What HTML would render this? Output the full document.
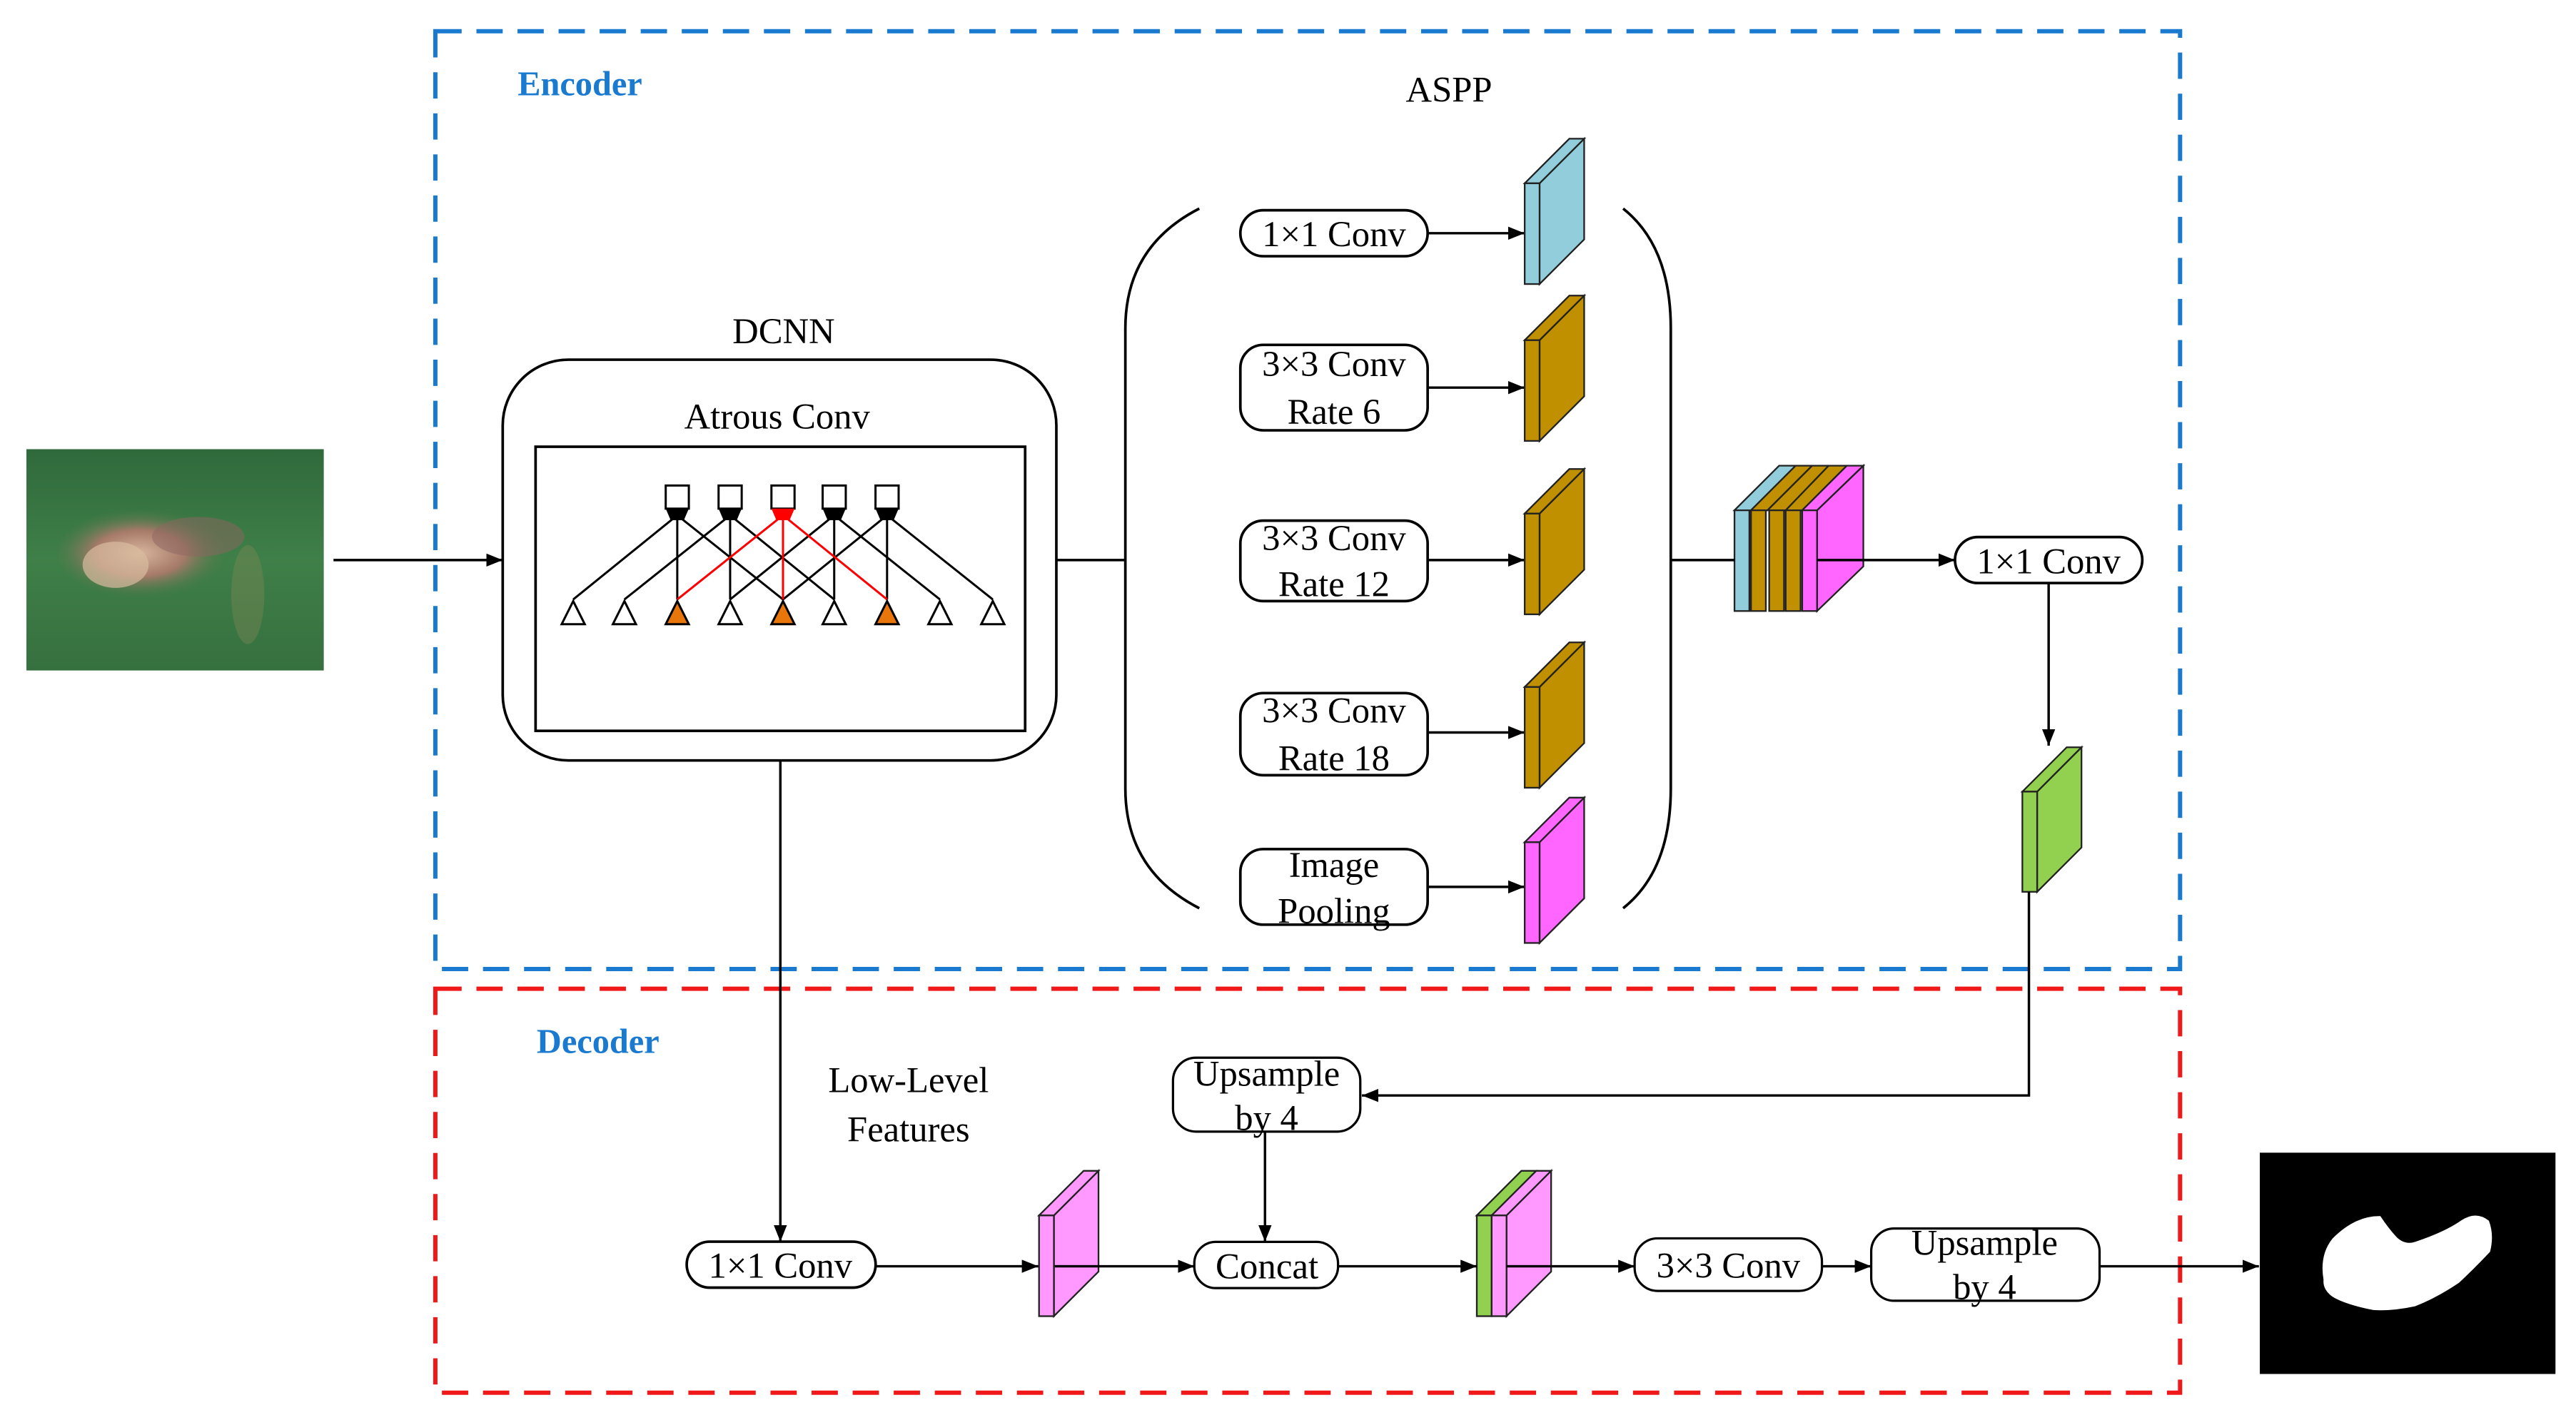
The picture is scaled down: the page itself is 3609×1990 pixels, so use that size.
<!DOCTYPE html>
<html><head><meta charset="utf-8"><style>html,body{margin:0;padding:0;background:#fff}svg{display:block}svg text{font-family:"Liberation Serif","DejaVu Serif","Noto Serif CJK SC",serif}</style></head>
<body>
<svg width="3609" height="1990" viewBox="0 0 1568 864.6" preserveAspectRatio="none" xmlns="http://www.w3.org/2000/svg">
<defs>
<marker id="ah" markerWidth="10" markerHeight="8" refX="10" refY="4" orient="auto" markerUnits="userSpaceOnUse"><path d="M0,0 L10,4 L0,8 z" fill="#000"/></marker>
<radialGradient id="blob" cx="0.45" cy="0.5" r="0.5"><stop offset="0" stop-color="#d8b49c"/><stop offset="0.5" stop-color="#a57a68"/><stop offset="1" stop-color="#3f7a45" stop-opacity="0"/></radialGradient>
<linearGradient id="grn" x1="0" y1="0" x2="0" y2="1"><stop offset="0" stop-color="#2f6a3c"/><stop offset="0.5" stop-color="#3f7f48"/><stop offset="1" stop-color="#36703f"/></linearGradient>
</defs>
<rect width="1568" height="864.6" fill="#fff"/>

<rect x="265" y="19" width="1062" height="571" fill="none" stroke="#1a7ad0" stroke-width="2.6" stroke-dasharray="16,9"/>
<rect x="265" y="602" width="1062" height="246" fill="none" stroke="#f01818" stroke-width="2.6" stroke-dasharray="16,9"/>
<text x="353" y="58" font-size="21" font-weight="bold" fill="#1a7ad0" text-anchor="middle">Encoder</text>
<text x="364" y="641" font-size="21" font-weight="bold" fill="#1a7ad0" text-anchor="middle">Decoder</text>

<g transform="scale(1.0055)">
<rect x="16" y="272" width="180" height="134" fill="url(#grn)"/>
<ellipse cx="90" cy="335" rx="55" ry="28" fill="url(#blob)"/>
<ellipse cx="70" cy="342" rx="20" ry="14" fill="#d8bca0" opacity="0.7"/>
<ellipse cx="120" cy="325" rx="28" ry="12" fill="#8e6660" opacity="0.5"/>
<ellipse cx="150" cy="360" rx="10" ry="30" fill="#8a8a5a" opacity="0.35"/>
</g>
<line x1="203" y1="341" x2="306" y2="341" stroke="#000" stroke-width="1.5" marker-end="url(#ah)"/>

<text x="477" y="209" font-size="22" text-anchor="middle">DCNN</text>
<rect x="306" y="219" width="337" height="244" rx="40" fill="none" stroke="#000" stroke-width="1.6"/>
<text x="473" y="261" font-size="22" text-anchor="middle">Atrous Conv</text>
<rect x="326" y="272" width="298" height="173" fill="none" stroke="#000" stroke-width="1.6"/>
<g transform="scale(1.0055)">
<g stroke="#000" stroke-width="1.3" fill="none">
<line x1="410" y1="312" x2="347" y2="363"/><line x1="410" y1="312" x2="410" y2="363"/><line x1="410" y1="312" x2="474" y2="363"/>
<line x1="442" y1="312" x2="378" y2="363"/><line x1="442" y1="312" x2="442" y2="363"/><line x1="442" y1="312" x2="505" y2="363"/>
<line x1="505" y1="312" x2="442" y2="363"/><line x1="505" y1="312" x2="505" y2="363"/><line x1="505" y1="312" x2="569" y2="363"/>
<line x1="537" y1="312" x2="474" y2="363"/><line x1="537" y1="312" x2="537" y2="363"/><line x1="537" y1="312" x2="601" y2="363"/>
</g>
<g stroke="#f00" stroke-width="1.3"><line x1="474" y1="312" x2="410" y2="363"/><line x1="474" y1="312" x2="474" y2="363"/><line x1="474" y1="312" x2="537" y2="363"/></g>
<g stroke="#000" stroke-width="1.3" fill="#fff">
<rect x="403" y="294" width="14" height="14"/><rect x="435" y="294" width="14" height="14"/><rect x="467" y="294" width="14" height="14"/><rect x="498" y="294" width="14" height="14"/><rect x="530" y="294" width="14" height="14"/>
</g>
<g fill="#000"><path d="M403,308 h14 l-3,7 h-8 z"/><path d="M435,308 h14 l-3,7 h-8 z"/><path d="M498,308 h14 l-3,7 h-8 z"/><path d="M530,308 h14 l-3,7 h-8 z"/></g>
<path d="M467,308 h14 l-3,7 h-8 z" fill="#f00"/>
<g stroke="#000" stroke-width="1.3">
<path d="M347,364 l-7,14 h14 z" fill="#fff"/><path d="M378,364 l-7,14 h14 z" fill="#fff"/><path d="M410,364 l-7,14 h14 z" fill="#e8760a"/>
<path d="M442,364 l-7,14 h14 z" fill="#fff"/><path d="M474,364 l-7,14 h14 z" fill="#e8760a"/><path d="M505,364 l-7,14 h14 z" fill="#fff"/>
<path d="M537,364 l-7,14 h14 z" fill="#e8760a"/><path d="M569,364 l-7,14 h14 z" fill="#fff"/><path d="M601,364 l-7,14 h14 z" fill="#fff"/>
</g>
</g>
<line x1="643" y1="341" x2="685" y2="341" stroke="#000" stroke-width="1.5"/>

<text x="882" y="62" font-size="22" text-anchor="middle">ASPP</text>
<path d="M730,127 Q685,150 685,200 V480 Q685,530 730,553" fill="none" stroke="#000" stroke-width="1.6"/>
<path d="M988,127 Q1017,150 1017,200 V480 Q1017,530 988,553" fill="none" stroke="#000" stroke-width="1.6"/>
<g fill="#fff" stroke="#000" stroke-width="1.6">
<rect x="755" y="128" width="114" height="28" rx="14"/>
<rect x="755" y="210" width="114" height="52" rx="14"/>
<rect x="755" y="317" width="114" height="49" rx="14"/>
<rect x="755" y="422" width="114" height="50" rx="14"/>
<rect x="755" y="517" width="114" height="46" rx="14"/>
</g>
<g font-size="22" text-anchor="middle">
<text x="812" y="150">1×1 Conv</text>
<text x="812" y="229">3×3 Conv</text><text x="812" y="258">Rate 6</text>
<text x="812" y="335">3×3 Conv</text><text x="812" y="363">Rate 12</text>
<text x="812" y="440">3×3 Conv</text><text x="812" y="469">Rate 18</text>
<text x="812" y="534">Image</text><text x="812" y="562">Pooling</text>
</g>
<g stroke="#000" stroke-width="1.5" marker-end="url(#ah)">
<line x1="869" y1="142" x2="928" y2="142"/><line x1="869" y1="236" x2="928" y2="236"/><line x1="869" y1="341" x2="928" y2="341"/><line x1="869" y1="446" x2="928" y2="446"/><line x1="869" y1="540" x2="928" y2="540"/>
</g>
<g transform="scale(1.0055)">
<g stroke="#222" stroke-width="1">
<g fill="#92cddc"><path d="M932,111 L959,84 V145 L932,172 Z"/><path d="M923,111 L950,84 H959 L932,111 Z"/><rect x="923" y="111" width="9" height="61"/></g>
<g fill="#c09000"><path d="M932,206 L959,179 V240 L932,267 Z"/><path d="M923,206 L950,179 H959 L932,206 Z"/><rect x="923" y="206" width="9" height="61"/></g>
<g fill="#c09000"><path d="M932,311 L959,284 V345 L932,372 Z"/><path d="M923,311 L950,284 H959 L932,311 Z"/><rect x="923" y="311" width="9" height="61"/></g>
<g fill="#c09000"><path d="M932,416 L959,389 V450 L932,477 Z"/><path d="M923,416 L950,389 H959 L932,416 Z"/><rect x="923" y="416" width="9" height="61"/></g>
<g fill="#ff66ff"><path d="M932,510 L959,483 V544 L932,571 Z"/><path d="M923,510 L950,483 H959 L932,510 Z"/><rect x="923" y="510" width="9" height="61"/></g>
</g>
<g stroke="#222" stroke-width="1">
<path d="M1050,309 L1077,282 H1087 L1060,309 Z" fill="#92cddc"/><rect x="1050" y="309" width="9" height="61" fill="#92cddc"/>
<path d="M1060,309 L1087,282 H1097 L1070,309 Z" fill="#c09000"/><rect x="1060" y="309" width="9" height="61" fill="#c09000"/>
<path d="M1070,309 L1097,282 H1107 L1081,309 Z" fill="#c09000"/><rect x="1071" y="309" width="9" height="61" fill="#c09000"/>
<path d="M1081,309 L1107,282 H1118 L1091,309 Z" fill="#c09000"/><rect x="1081" y="309" width="9" height="61" fill="#c09000"/>
<path d="M1100,309 L1128,282 V343 L1100,370 Z" fill="#ff66ff"/><path d="M1091,309 L1118,282 H1128 L1100,309 Z" fill="#ff66ff"/><rect x="1091" y="309" width="9" height="61" fill="#ff66ff"/>
</g>
</g>
<line x1="1017" y1="341" x2="1056" y2="341" stroke="#000" stroke-width="1.5"/>
<line x1="1106" y1="341" x2="1190" y2="341" stroke="#000" stroke-width="1.5" marker-end="url(#ah)"/>
<rect x="1190" y="327" width="114" height="28" rx="14" fill="#fff" stroke="#000" stroke-width="1.6"/>
<text x="1247" y="349" font-size="22" text-anchor="middle">1×1 Conv</text>
<line x1="1247" y1="355" x2="1247" y2="454" stroke="#000" stroke-width="1.5" marker-end="url(#ah)"/>
<g stroke="#222" stroke-width="1" fill="#92d050">
<path d="M1240,482 L1267,455 V516 L1240,543 Z"/><path d="M1231,482 L1258,455 H1267 L1240,482 Z"/><rect x="1231" y="482" width="9" height="61"/>
</g>
<polyline points="1235,543 1235,667 829,667" fill="none" stroke="#000" stroke-width="1.5" marker-end="url(#ah)"/>

<rect x="714" y="644" width="114" height="45" rx="14" fill="#fff" stroke="#000" stroke-width="1.4"/>
<text x="771" y="661" font-size="22" text-anchor="middle">Upsample</text>
<text x="771" y="688" font-size="22" text-anchor="middle">by 4</text>
<line x1="770" y1="689" x2="770" y2="756" stroke="#000" stroke-width="1.5" marker-end="url(#ah)"/>
<line x1="475" y1="463" x2="475" y2="756" stroke="#000" stroke-width="1.5" marker-end="url(#ah)"/>
<text x="553" y="665" font-size="22" text-anchor="middle">Low-Level</text>
<text x="553" y="695" font-size="22" text-anchor="middle">Features</text>
<rect x="418" y="756" width="115" height="28" rx="14" fill="#fff" stroke="#000" stroke-width="1.6"/>
<text x="475" y="778" font-size="22" text-anchor="middle">1×1 Conv</text>
<line x1="533" y1="771" x2="632" y2="771" stroke="#000" stroke-width="1.5" marker-end="url(#ah)"/>
<g transform="scale(1.0055)">
<g stroke="#222" stroke-width="1" fill="#ff99ff">
<path d="M638,736 L665,709 V770 L638,797 Z"/><path d="M629,736 L656,709 H665 L638,736 Z"/><rect x="629" y="736" width="9" height="61"/>
</g>
<rect x="723" y="752" width="87" height="28" rx="13" fill="#fff" stroke="#000" stroke-width="1.4"/>
<text x="767" y="774" font-size="22" text-anchor="middle">Concat</text>
<g stroke="#222" stroke-width="1">
<path d="M894,736 L921,709 H930 L903,736 Z" fill="#92d050"/><rect x="894" y="736" width="9" height="61" fill="#92d050"/>
<path d="M912,736 L939,709 V770 L912,797 Z" fill="#ff99ff"/><path d="M903,736 L930,709 H939 L912,736 Z" fill="#ff99ff"/><rect x="903" y="736" width="9" height="61" fill="#ff99ff"/>
</g>
</g>
<line x1="642" y1="771" x2="727" y2="771" stroke="#000" stroke-width="1.5" marker-end="url(#ah)"/>
<line x1="814" y1="771" x2="899" y2="771" stroke="#000" stroke-width="1.5" marker-end="url(#ah)"/>
<line x1="917" y1="771" x2="995" y2="771" stroke="#000" stroke-width="1.5" marker-end="url(#ah)"/>
<rect x="995" y="754" width="114" height="32" rx="14" fill="#fff" stroke="#000" stroke-width="1.4"/>
<text x="1052" y="778" font-size="22" text-anchor="middle">3×3 Conv</text>
<line x1="1109" y1="771" x2="1139" y2="771" stroke="#000" stroke-width="1.5" marker-end="url(#ah)"/>
<rect x="1139" y="748" width="139" height="44" rx="14" fill="#fff" stroke="#000" stroke-width="1.4"/>
<text x="1208" y="764" font-size="22" text-anchor="middle">Upsample</text>
<text x="1208" y="791" font-size="22" text-anchor="middle">by 4</text>
<line x1="1278" y1="771" x2="1375" y2="771" stroke="#000" stroke-width="1.5" marker-end="url(#ah)"/>

<g transform="scale(1.0055)">
<rect x="1368" y="698" width="179" height="134" fill="#000"/>
<path d="M1406.6,775 Q1404,760 1412,750 Q1426,736 1441,736.4 Q1446,744 1451,749.3 Q1456,754 1462,752 Q1480,746 1490,739 Q1499,733 1506.7,739.2 Q1510,748 1507.4,758 Q1498,768 1488.7,776.7 Q1475,786 1462,791 Q1448,794 1436.8,793.3 Q1420,790 1412.3,785.4 Q1406,781 1406.6,775 Z" fill="#fff"/>
</g>
</svg>
</body></html>
